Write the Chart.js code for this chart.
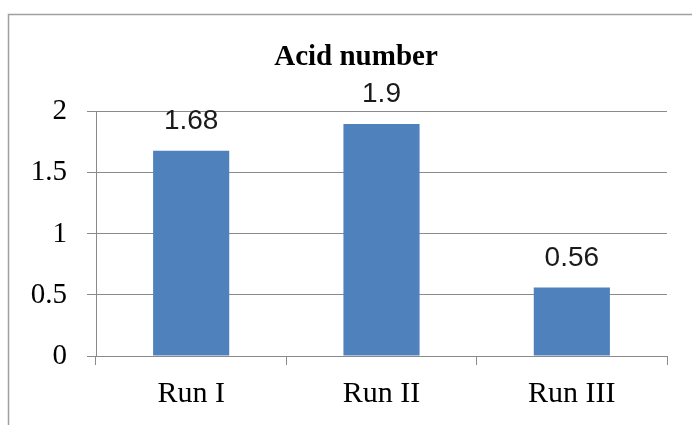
<!DOCTYPE html>
<html>
<head>
<meta charset="utf-8">
<script src="https://cdn.jsdelivr.net/npm/chart.js@4/dist/chart.umd.min.js"></script>
<style>
  html, body { margin: 0; padding: 0; background: #fff; }
  #wrap { width: 692px; height: 425px; }
</style>
</head>
<body>
<div id="wrap"><canvas id="c" width="692" height="425"></canvas></div>
<script>
// Acid number per run
const categories = ["Run I", "Run II", "Run III"];
const acidNumber = [1.68, 1.9, 0.56];
const yTickValues = [0, 0.5, 1, 1.5, 2];
const yTickLabels = ["0", "0.5", "1", "1.5", "2"];

const SERIF = "'Liberation Serif', 'Times New Roman', serif";
const SANS = "'Liberation Sans', Arial, sans-serif";
const AXIS_GREY = "#8a8a8a";

// Frame around the chart
const framePlugin = {
  id: "frame",
  beforeDraw(chart) {
    const ctx = chart.ctx;
    ctx.save();
    ctx.fillStyle = "#ffffff";
    ctx.fillRect(0, 0, chart.width, chart.height);
    ctx.strokeStyle = "#a0a0a0";
    ctx.lineWidth = 1.5;
    ctx.beginPath();
    ctx.moveTo(8.5, chart.height);
    ctx.lineTo(8.5, 14.5);
    ctx.lineTo(chart.width, 14.5);
    ctx.stroke();
    ctx.restore();
  }
};

// Centre the title over the plot region rather than the full canvas
const titleCentrePlugin = {
  id: "titleCentre",
  afterLayout(chart) {
    const t = chart.titleBlock;
    if (t) {
      t.left = 45;
      t.right = chart.chartArea.right;
    }
  }
};

// Value printed above each bar
const valueLabelPlugin = {
  id: "valueLabels",
  afterDatasetsDraw(chart) {
    const ctx = chart.ctx;
    const meta = chart.getDatasetMeta(0);
    const values = chart.data.datasets[0].data;
    ctx.save();
    ctx.font = "28px " + SANS;
    ctx.fillStyle = "#1a1a1a";
    ctx.textAlign = "center";
    ctx.textBaseline = "alphabetic";
    meta.data.forEach((bar, i) => {
      ctx.fillText(String(values[i]), bar.x, bar.y - 22);
    });
    ctx.restore();
  }
};

new Chart(document.getElementById("c"), {
  type: "bar",
  data: {
    labels: categories,
    datasets: [{
      label: "Acid number",
      data: acidNumber,
      backgroundColor: "#4F81BD",
      borderWidth: 0,
      categoryPercentage: 1,
      barPercentage: 0.4
    }]
  },
  options: {
    responsive: false,
    animation: false,
    devicePixelRatio: 1,
    layout: { padding: { left: 9, right: 25, top: 40, bottom: 0 } },
    plugins: {
      legend: { display: false },
      tooltip: { enabled: false },
      title: {
        display: true,
        text: "Acid number",
        color: "#000",
        font: { family: SERIF, size: 29, weight: "bold" },
        padding: { top: 0, bottom: 37 }
      }
    },
    scales: {
      x: {
        offset: true,
        afterFit(scale) { scale.height = 69; },
        grid: {
          display: true,
          drawOnChartArea: false,
          drawTicks: true,
          tickLength: 9,
          color: AXIS_GREY,
          offset: true
        },
        border: { display: true, color: AXIS_GREY, width: 1 },
        ticks: {
          color: "#000",
          font: { family: SERIF, size: 30 },
          padding: 11,
          maxRotation: 0
        }
      },
      y: {
        min: 0,
        max: 2,
        afterFit(scale) { scale.width = 87; },
        afterBuildTicks(scale) {
          scale.ticks = yTickValues.map(v => ({ value: v }));
        },
        grid: {
          color: AXIS_GREY,
          drawTicks: true,
          tickLength: 9
        },
        border: { display: true, color: AXIS_GREY, width: 1 },
        ticks: {
          color: "#000",
          font: { family: SERIF, size: 29 },
          padding: 20,
          callback(value) {
            const i = yTickValues.indexOf(value);
            return i >= 0 ? yTickLabels[i] : "";
          }
        }
      }
    }
  },
  plugins: [framePlugin, titleCentrePlugin, valueLabelPlugin]
});
</script>
</body>
</html>
